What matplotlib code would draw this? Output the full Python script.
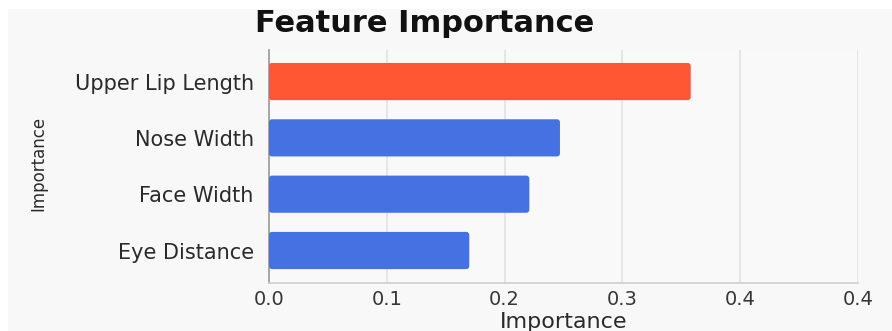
import matplotlib
matplotlib.use('Agg')
import matplotlib.pyplot as plt
from matplotlib.patches import FancyBboxPatch, Rectangle

# Datos
features = ['Upper Lip Length', 'Nose Width', 'Face Width', 'Eye Distance']
importance = [0.358, 0.247, 0.221, 0.170]
bar_colors = ['#FF5733', '#4472E2', '#4472E2', '#4472E2']
x_ticks = [0.0, 0.1, 0.2, 0.3, 0.4, 0.5]
x_tick_labels = ['0.0', '0.1', '0.2', '0.3', '0.4', '0.4']

plt.rcParams['font.family'] = ['DejaVu Sans']

W, H = 892, 331
fig = plt.figure(figsize=(W / 100, H / 100), dpi=100)
fig.patch.set_facecolor('#ffffff')
# fondo gris claro con un borde blanco arriba/izquierda
fig.patches.append(Rectangle((8 / W, 0), 1, 1 - 9 / H, transform=fig.transFigure,
                             facecolor='#f8f8f8', edgecolor='none', zorder=-10))

ax = fig.add_axes([269 / W, (H - 283) / H, (858 - 269) / W, (283 - 50) / H])
ax.set_facecolor('#f9f9f9')

bars = ax.barh(features, importance, height=0.66, color=bar_colors)

# Redondear esquinas de las barras
px_x = 0.5 / (858 - 269)          # unidades x por pixel
px_y = 4.137 / (283 - 50)         # unidades y por pixel
for b in bars:
    x0, y0 = b.get_x(), b.get_y()
    w, h = b.get_width(), b.get_height()
    b.set_visible(False)
    ax.add_patch(FancyBboxPatch((x0, y0), w, h,
                                boxstyle=f"round,pad=0,rounding_size={3 * px_x}",
                                mutation_aspect=px_y / px_x,
                                facecolor=b.get_facecolor(), edgecolor='none',
                                zorder=3))

ax.set_xlim(0, 0.5)
ax.set_ylim(3.577, -0.56)
ax.set_xticks(x_ticks)
ax.set_xticklabels(x_tick_labels)

ax.grid(axis='x', color='#e2e2e2', lw=1.2, zorder=0)
ax.set_axisbelow(True)

for s in ['top', 'right']:
    ax.spines[s].set_visible(False)
ax.spines['left'].set_color('#9a9a9a')
ax.spines['left'].set_linewidth(1.2)
ax.spines['bottom'].set_color('#cfcfcf')
ax.spines['bottom'].set_linewidth(1.2)

ax.tick_params(axis='y', length=0, pad=11, labelsize=15, labelcolor='#2a2a2a')
ax.tick_params(axis='x', length=0, pad=5, labelsize=14, labelcolor='#363636')

ax.set_xlabel('Importance', fontsize=16, color='#2a2a2a', labelpad=2)

fig.text(425 / W, 1 - 23 / H, 'Feature Importance', ha='center', va='center',
         fontsize=22, fontweight='bold', color='#111111')
fig.text(38 / W, 1 - 163 / H, 'Importance', ha='center', va='center',
         rotation=90, fontsize=12, color='#2a2a2a')

fig.savefig('out.png', dpi=100, facecolor=fig.get_facecolor())
